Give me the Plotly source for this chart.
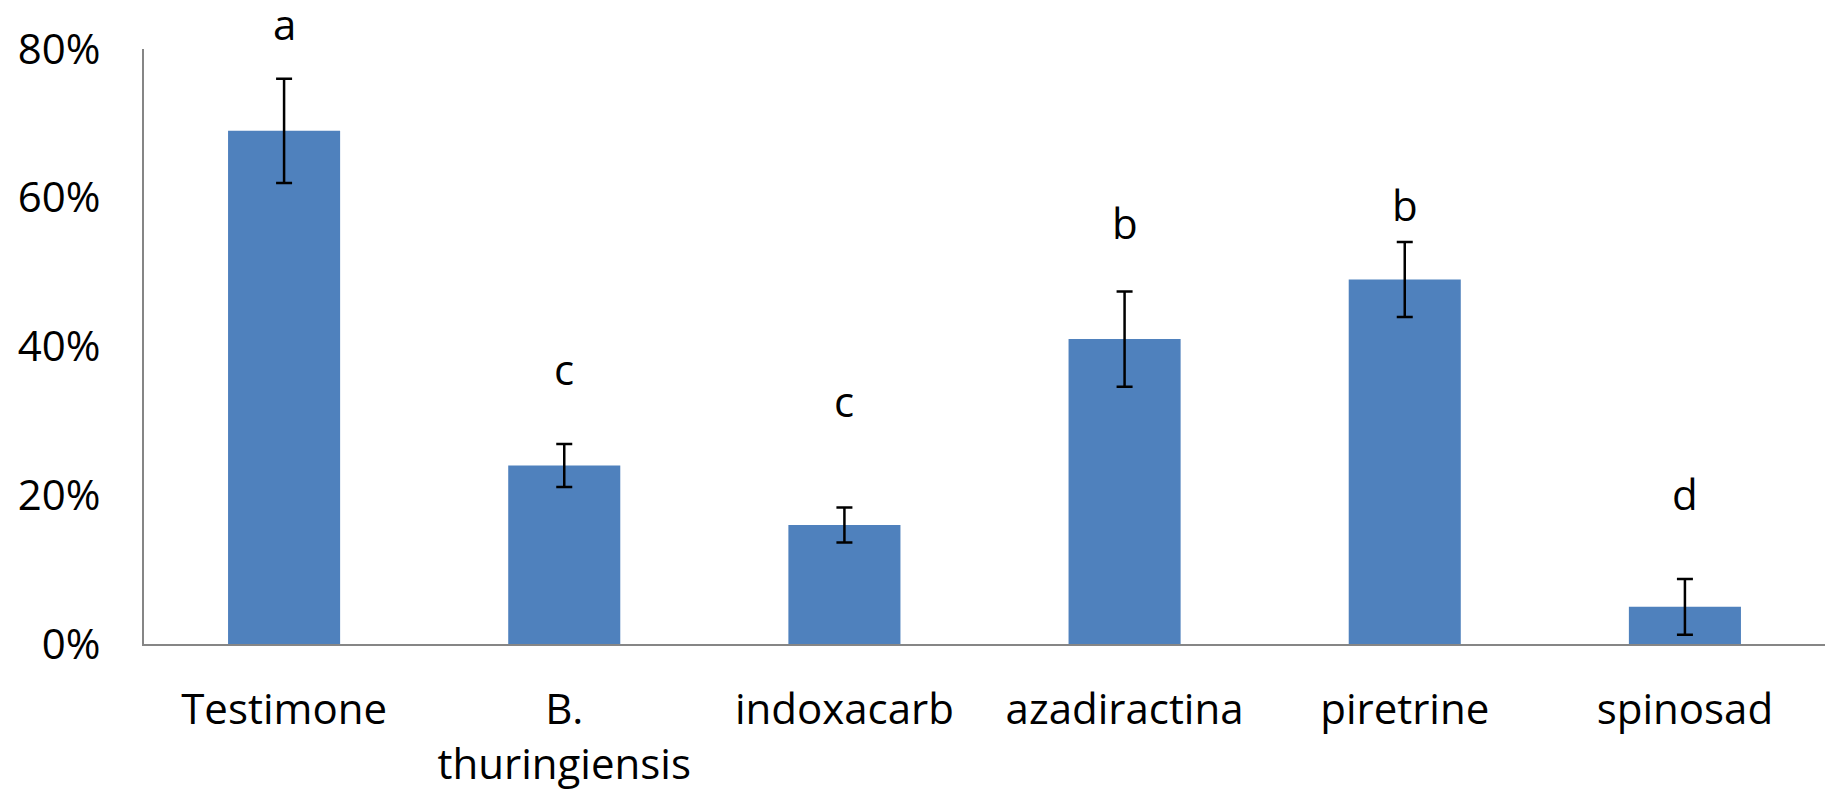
import plotly.graph_objects as go

# Treatments and measured percentages
treatments = ["Testimone", "B.<br>thuringiensis", "indoxacarb", "azadiractina", "piretrine", "spinosad"]
mean_pct = [69, 24, 16, 41, 49, 5]
err_pct = [7, 2.9, 2.35, 6.4, 5.05, 3.75]
group_letters = ["a", "c", "c", "b", "b", "d"]
letter_y = [80.9, 34.5, 30.2, 54.2, 56.6, 17.8]

tick_vals = [0, 20, 40, 60, 80]
tick_text = ["0%", "20%", "40%", "60%", "80%"]
Y_MAX = 80

FONT = "Open Sans"
FS = 42

fig = go.Figure()
fig.add_trace(go.Bar(
    x=treatments,
    y=mean_pct,
    marker=dict(color="#4F81BD", line=dict(width=0)),
    error_y=dict(type="data", array=err_pct, visible=True,
                 color="black", thickness=2.5, width=8),
    hoverinfo="skip",
))

# Significance letters (paper y so letters above the axis top stay visible)
for cat, txt, ly in zip(treatments, group_letters, letter_y):
    fig.add_annotation(x=cat, y=ly / Y_MAX, text=txt, showarrow=False,
                       xref="x", yref="paper", yanchor="bottom", yshift=-12,
                       font=dict(family=FONT, size=FS, color="black"))

fig.update_layout(
    width=1828, height=792,
    margin=dict(l=144, r=3, t=49, b=148),
    paper_bgcolor="white", plot_bgcolor="white",
    bargap=0.6,
    showlegend=False,
    font=dict(family=FONT, size=FS, color="black"),
)
fig.update_xaxes(
    automargin=False,
    showline=True, linecolor="#868686", linewidth=2,
    showgrid=False, ticks="outside", ticklen=28, tickcolor="rgba(0,0,0,0)",
    tickfont=dict(family=FONT, size=FS, color="black"),
)
fig.update_yaxes(
    automargin=False,
    range=[0, Y_MAX], tickvals=tick_vals, ticktext=tick_text,
    showline=True, linecolor="#868686", linewidth=2,
    showgrid=False, zeroline=False,
    ticks="outside", ticklen=33, tickcolor="rgba(0,0,0,0)",
    tickfont=dict(family=FONT, size=FS, color="black"),
)

fig.write_html("out.html")
